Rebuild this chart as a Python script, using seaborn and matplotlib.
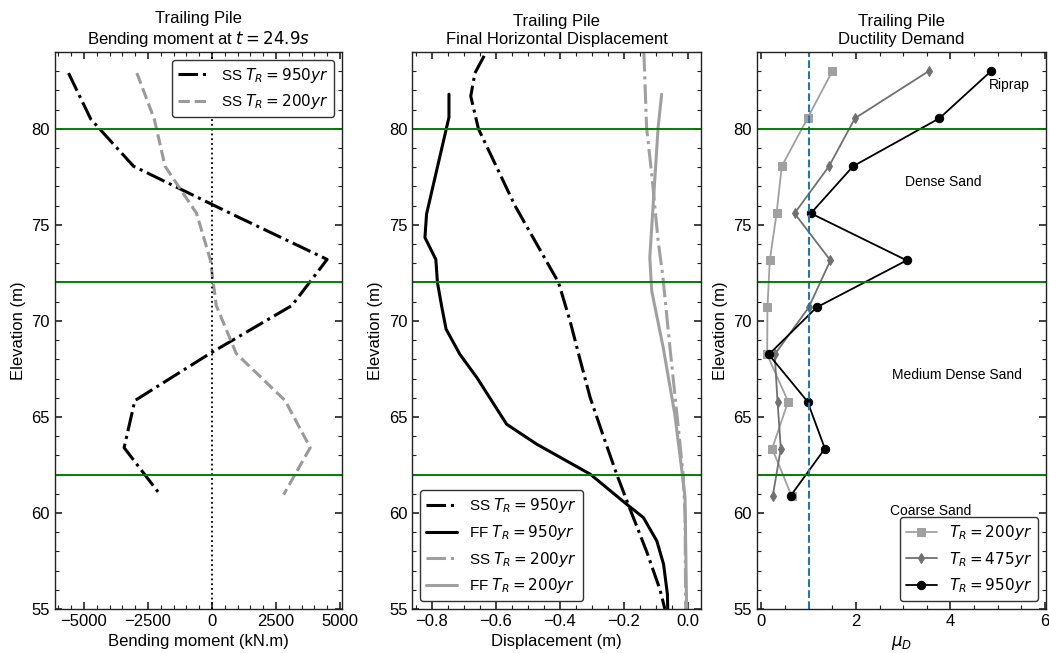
import matplotlib
matplotlib.use("Agg")
import matplotlib.pyplot as plt
from matplotlib.ticker import AutoMinorLocator
import seaborn as sns

# ---------------- data ----------------
# Panel 1: bending moment (kN.m) vs elevation (m)
elev_bm = [82.9, 80.5, 78.05, 75.6, 73.2, 70.8, 68.3, 65.85, 63.4, 60.95]
bm_ss950 = [-5600, -4730, -3060, 720, 4500, 3125, -80, -3010, -3430, -2020]
bm_ss200 = [-2930, -2250, -1830, -600, -66, 170, 950, 2860, 3840, 2800]

# Panel 2: final horizontal displacement (m) vs elevation (m)
elev_ss950 = [83.8, 82.9, 81.7, 80.0, 78.0, 76.0, 74.0, 72.0, 70.0, 68.0, 66.0, 64.0, 62.0, 60.0, 58.0, 56.0, 55.0]
disp_ss950 = [-0.636, -0.665, -0.678, -0.654, -0.597, -0.540, -0.472, -0.404, -0.368, -0.337, -0.305,
              -0.264, -0.222, -0.176, -0.129, -0.087, -0.072]
elev_ff950 = [81.8, 80.6, 75.56, 74.34, 73.2, 72.0, 70.78, 69.57, 68.26, 67.05, 64.62, 63.58, 62.02,
              60.45, 59.76, 58.54, 57.33, 55.77, 55.0]
disp_ff950 = [-0.746, -0.746, -0.816, -0.821, -0.787, -0.782, -0.769, -0.755, -0.712, -0.659, -0.566,
              -0.472, -0.305, -0.191, -0.139, -0.097, -0.076, -0.064, -0.063]
elev_ss200 = [84.0, 80.07, 77.64, 74.17, 72.43, 68.6, 64.45, 62.0, 59.93, 55.0]
disp_ss200 = [-0.1375, -0.129, -0.113, -0.093, -0.079, -0.056, -0.030, -0.015, -0.009, -0.007]
elev_ff200 = [81.8, 80.07, 73.3, 71.56, 68.6, 65.14, 62.36, 60.8, 55.0]
disp_ff200 = [-0.082, -0.093, -0.119, -0.113, -0.077, -0.041, -0.020, -0.009, -0.004]

# Panel 3: ductility demand vs elevation (m)
elev_mu = [83.0, 80.55, 78.05, 75.6, 73.15, 70.7, 68.25, 65.8, 63.35, 60.9]
mu_200 = [1.50, 0.975, 0.43, 0.32, 0.176, 0.127, 0.12, 0.565, 0.226, 0.636]
mu_475 = [3.54, 1.98, 1.43, 0.70, 1.46, 1.00, 0.28, 0.34, 0.41, 0.24]
mu_950 = [4.86, 3.77, 1.94, 1.046, 3.075, 1.166, 0.155, 0.975, 1.343, 0.62]

layer_bounds = [80, 72, 62]
layer_names = ["Riprap", "Dense Sand", "Medium Dense Sand", "Coarse Sand"]
layer_text_pos = [(5.25, 82.3), (3.85, 77.25), (4.13, 67.2), (3.59, 60.1)]

# ---------------- style ----------------
sns.set_style("ticks")
plt.rcParams["font.family"] = ["Liberation Sans", "DejaVu Sans"]
plt.rcParams["mathtext.fontset"] = "dejavusans"
plt.rcParams["font.size"] = 12
plt.rcParams["text.color"] = "black"
plt.rcParams["axes.labelcolor"] = "black"
plt.rcParams["xtick.color"] = "black"
plt.rcParams["ytick.color"] = "black"
plt.rcParams["axes.edgecolor"] = "#222222"
plt.rcParams["axes.linewidth"] = 1.0

fig = plt.figure(figsize=(10.49, 6.53), dpi=100)
bottom, height = 0.0674, 0.853
ax1 = fig.add_axes([0.0524, bottom, 0.2736, height])
ax2 = fig.add_axes([0.3930, bottom, 0.2749, height])
ax3 = fig.add_axes([0.7214, bottom, 0.2755, height])

leg_kw = dict(edgecolor="#333333", framealpha=1, fontsize=11)

# Panel 1
sns.lineplot(x=bm_ss950, y=elev_bm, sort=False, estimator=None, ax=ax1, color="black",
             linestyle="-.", lw=2.2, label=r"SS $T_R = 950yr$")
sns.lineplot(x=bm_ss200, y=elev_bm, sort=False, estimator=None, ax=ax1, color="#9a9a9a",
             linestyle="--", lw=2.2, label=r"SS $T_R = 200yr$")
ax1.axvline(0, color="black", linestyle=":", lw=1.3)
ax1.set_xlim(-6130, 5080)
ax1.set_xticks([-5000, -2500, 0, 2500, 5000])
ax1.set_xlabel("Bending moment (kN.m)")
ax1.set_title("Trailing Pile\nBending moment at $t = 24.9s$", fontsize=12)
ax1.legend(loc="upper right", **leg_kw)

# Panel 2
sns.lineplot(x=disp_ss950, y=elev_ss950, sort=False, estimator=None, ax=ax2, color="black",
             linestyle="-.", lw=2.2, label=r"SS $T_R = 950yr$")
sns.lineplot(x=disp_ff950, y=elev_ff950, sort=False, estimator=None, ax=ax2, color="black",
             linestyle="-", lw=2.2, label=r"FF $T_R = 950yr$")
sns.lineplot(x=disp_ss200, y=elev_ss200, sort=False, estimator=None, ax=ax2, color="#a0a0a0",
             linestyle="-.", lw=2.2, label=r"SS $T_R = 200yr$")
sns.lineplot(x=disp_ff200, y=elev_ff200, sort=False, estimator=None, ax=ax2, color="#a0a0a0",
             linestyle="-", lw=2.2, label=r"FF $T_R = 200yr$")
ax2.set_xlim(-0.8606, 0.0397)
ax2.set_xticks([-0.8, -0.6, -0.4, -0.2, 0.0])
ax2.set_xlabel("Displacement (m)")
ax2.set_title("Trailing Pile\nFinal Horizontal Displacement", fontsize=12)
ax2.legend(loc="lower left", **leg_kw)

# Panel 3
sns.lineplot(x=mu_200, y=elev_mu, sort=False, estimator=None, ax=ax3, color="#a0a0a0",
             linestyle="-", lw=1.3, marker="s", markersize=6, markeredgecolor="#a0a0a0",
             label=r"$T_R = 200yr$")
sns.lineplot(x=mu_475, y=elev_mu, sort=False, estimator=None, ax=ax3, color="#707070",
             linestyle="-", lw=1.3, marker="d", markersize=5, markeredgecolor="#707070",
             label=r"$T_R = 475yr$")
sns.lineplot(x=mu_950, y=elev_mu, sort=False, estimator=None, ax=ax3, color="black",
             linestyle="-", lw=1.3, marker="o", markersize=6, markeredgecolor="black",
             label=r"$T_R = 950yr$")
ax3.axvline(1.0, color="#1f77b4", linestyle="--", lw=1.5)
for name, (tx, ty) in zip(layer_names, layer_text_pos):
    ax3.text(tx, ty, name, ha="center", va="center", fontsize=10)
ax3.set_xlim(-0.1, 6.02)
ax3.set_xticks([0, 2, 4, 6])
ax3.set_xlabel(r"$\mu_D$")
ax3.set_title("Trailing Pile\nDuctility Demand", fontsize=12)
ax3.legend(loc="lower right", **leg_kw)

for ax in (ax1, ax2, ax3):
    for yb in layer_bounds:
        ax.axhline(yb, color="green", lw=1.4)
    ax.set_ylim(55, 84)
    ax.set_yticks([55, 60, 65, 70, 75, 80])
    ax.set_ylabel("Elevation (m)")
    ax.xaxis.set_minor_locator(AutoMinorLocator(5 if ax is ax1 else 4))
    ax.yaxis.set_minor_locator(AutoMinorLocator(5))
    ax.tick_params(which="both", direction="in", top=True, right=True, labelsize=12,
                   color="#222222")
    ax.tick_params(which="major", length=5, width=1.2)
    ax.tick_params(which="minor", length=3, width=0.8)

fig.savefig("out.png", dpi=100)
